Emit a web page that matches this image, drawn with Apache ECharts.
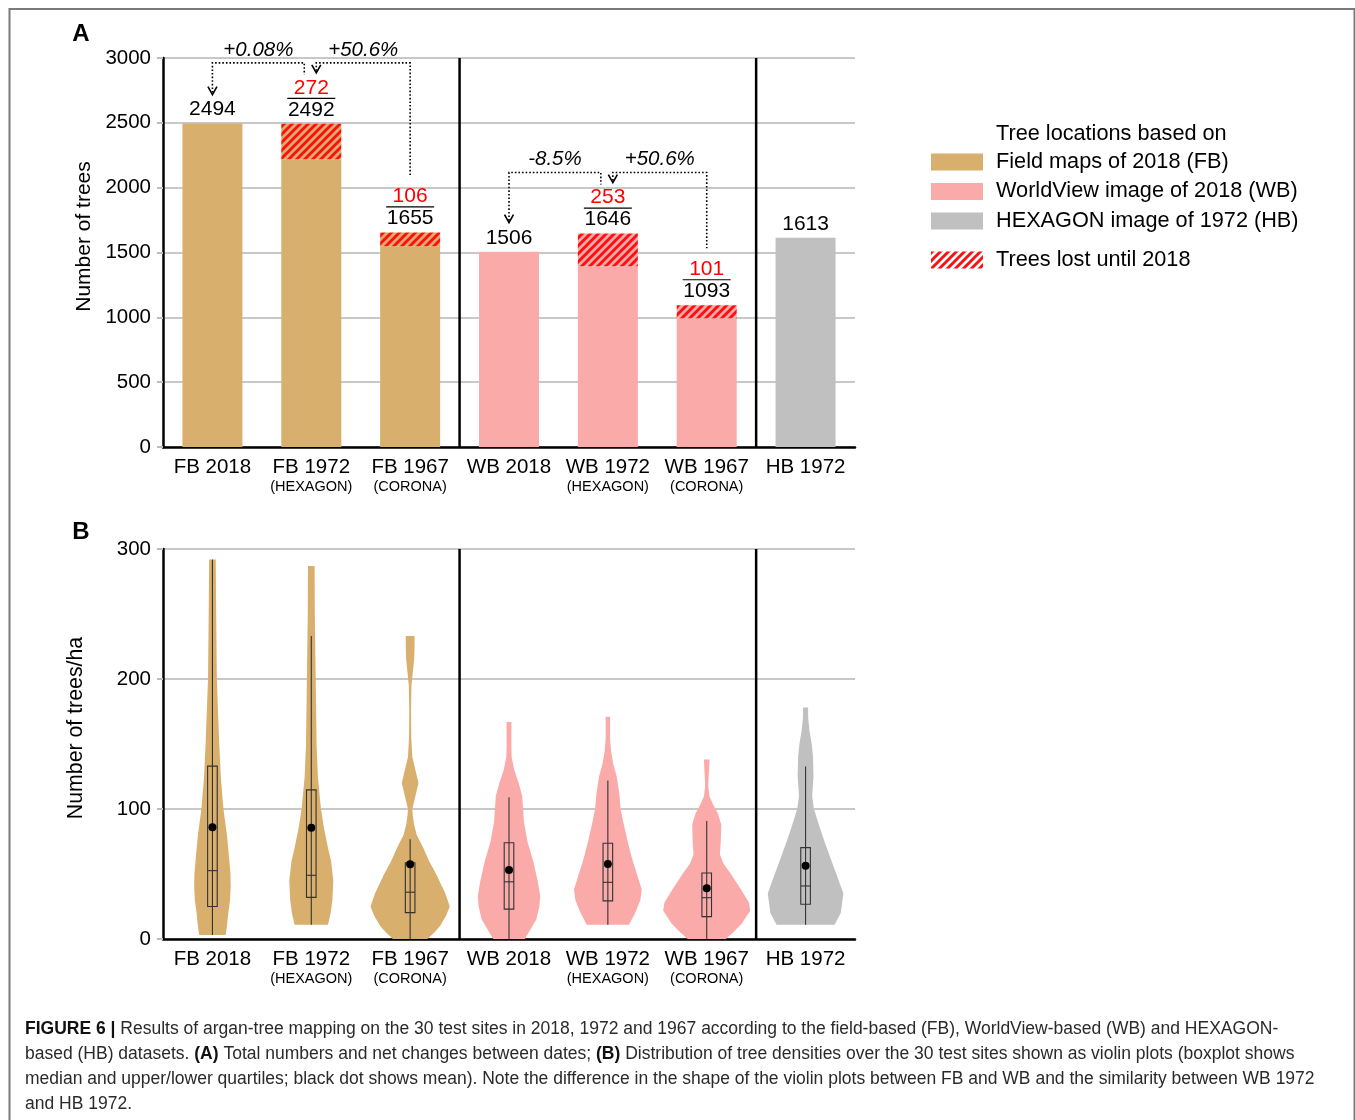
<!DOCTYPE html>
<html>
<head>
<meta charset="utf-8">
<script src="https://cdn.jsdelivr.net/npm/echarts@6/dist/echarts.min.js"></script>
<style>
  html, body { margin: 0; padding: 0; background: #fff; }
  #chart { width: 1355px; height: 1120px; }
</style>
</head>
<body>
<div id="chart"></div>
<script>
// categories shared by both panels
const categories = ['FB 2018', 'FB 1972', 'FB 1967', 'WB 2018', 'WB 1972', 'WB 1967', 'HB 1972'];
const subLabels = ['', '(HEXAGON)', '(CORONA)', '', '(HEXAGON)', '(CORONA)', ''];

// panel A: total trees and trees lost until 2018
const totalTrees = [2494, 2492, 1655, 1506, 1646, 1093, 1613];
const lostTrees = [0, 272, 106, 0, 253, 101, 0];
const netChanges = [
  { from: 'FB 1972', to: 'FB 2018', text: '+0.08%' },
  { from: 'FB 1967', to: 'FB 1972', text: '+50.6%' },
  { from: 'WB 1972', to: 'WB 2018', text: '-8.5%' },
  { from: 'WB 1967', to: 'WB 1972', text: '+50.6%' }
];
// groups are split by a black line before these categories
const groupStarts = ['WB 2018', 'HB 1972'];

// panel B: violin outlines [trees/ha, relative density] and box stats
const violinDensity = [
  [[3, 0.30], [10, 0.33], [20, 0.36], [30, 0.40], [40, 0.415], [50, 0.41], [60, 0.385], [80, 0.33], [100, 0.25], [125, 0.19], [150, 0.155], [200, 0.10], [250, 0.085], [292, 0.075]],
  [[11, 0.38], [20, 0.44], [30, 0.48], [45, 0.50], [60, 0.45], [70, 0.38], [85, 0.29], [100, 0.22], [125, 0.15], [150, 0.12], [200, 0.10], [250, 0.08], [287, 0.075]],
  [[0, 0.39], [5, 0.55], [10, 0.68], [18, 0.82], [25, 0.90], [35, 0.80], [50, 0.59], [60, 0.43], [70, 0.30], [80, 0.15], [88, 0.09], [95, 0.06], [100, 0.05], [110, 0.12], [120, 0.19], [130, 0.12], [140, 0.05], [155, 0.025], [175, 0.02], [195, 0.03], [205, 0.06], [215, 0.09], [225, 0.10], [233, 0.10]],
  [[0, 0.36], [8, 0.50], [15, 0.62], [25, 0.69], [33, 0.71], [45, 0.65], [60, 0.55], [75, 0.42], [90, 0.34], [100, 0.32], [110, 0.30], [120, 0.22], [130, 0.12], [140, 0.06], [150, 0.055], [167, 0.055]],
  [[11, 0.48], [20, 0.62], [30, 0.74], [38, 0.77], [50, 0.66], [62, 0.55], [75, 0.45], [90, 0.35], [100, 0.29], [112, 0.26], [125, 0.20], [135, 0.12], [145, 0.07], [155, 0.05], [171, 0.05]],
  [[0, 0.43], [5, 0.60], [12, 0.80], [22, 0.99], [28, 0.96], [38, 0.78], [50, 0.55], [58, 0.38], [65, 0.30], [75, 0.32], [88, 0.33], [97, 0.25], [103, 0.15], [110, 0.06], [118, 0.035], [125, 0.045], [138, 0.065]],
  [[11, 0.66], [20, 0.80], [35, 0.86], [50, 0.70], [62, 0.57], [75, 0.43], [88, 0.30], [100, 0.19], [110, 0.15], [125, 0.18], [140, 0.17], [150, 0.14], [160, 0.09], [170, 0.06], [178, 0.057]]
];
// [lower whisker, Q1, median, Q3, upper whisker]
const boxStats = [
  [3, 25, 52.6, 133, 292],
  [11, 32, 49, 114.7, 233],
  [0, 20.3, 36, 58.7, 76.7],
  [0, 23, 44, 74, 109],
  [11, 29.3, 43.6, 73.7, 122],
  [0, 17.2, 31.8, 50.8, 90.8],
  [11, 26.7, 40.8, 70.3, 132.6]
];
const meanDensity = [86, 85.5, 57.5, 53, 57.7, 39, 56.4];

const legendLabels = ['Field maps of 2018 (FB)', 'WorldView image of 2018 (WB)', 'HEXAGON image of 1972 (HB)'];

const FONT = 'Liberation Sans, Arial, Helvetica, sans-serif';
const colorOf = name => ({ FB: '#d8af6c', WB: '#fbaaaa', HB: '#c0c0c0' })[name.slice(0, 2)];

function stripes(bg) {
  const s = 8;
  const c = document.createElement('canvas');
  c.width = c.height = s;
  const ctx = c.getContext('2d');
  ctx.fillStyle = bg;
  ctx.fillRect(0, 0, s, s);
  ctx.strokeStyle = '#ff1010';
  ctx.lineWidth = 3;
  ctx.beginPath();
  ctx.moveTo(0, s); ctx.lineTo(s, 0);
  ctx.moveTo(-s / 2, s / 2); ctx.lineTo(s / 2, -s / 2);
  ctx.moveTo(s / 2, s * 1.5); ctx.lineTo(s * 1.5, s / 2);
  ctx.stroke();
  return c;
}

function xAxisFor(gridIndex) {
  return {
    type: 'category',
    gridIndex: gridIndex,
    data: categories,
    axisLine: { lineStyle: { color: '#000', width: 2.5 } },
    axisTick: { show: false },
    axisLabel: {
      margin: 9,
      interval: 0,
      formatter: (v, i) => subLabels[i] ? '{a|' + v + '}\n{b|' + subLabels[i] + '}' : '{a|' + v + '}',
      rich: {
        a: { fontSize: 20.5, lineHeight: 22, color: '#000', fontFamily: FONT },
        b: { fontSize: 14.5, lineHeight: 17, color: '#000', fontFamily: FONT }
      }
    }
  };
}

function yAxisFor(gridIndex, max, interval, name, gap, nameSize) {
  return {
    type: 'value',
    gridIndex: gridIndex,
    min: 0,
    max: max,
    interval: interval,
    name: name,
    nameLocation: 'middle',
    nameGap: gap,
    nameTextStyle: { fontSize: nameSize, color: '#000', fontFamily: FONT, padding: [0, 0, 0, 32] },
    axisLine: { show: true, lineStyle: { color: '#000', width: 2.5 } },
    axisTick: { show: true, length: 6, lineStyle: { color: '#bdbdbd', width: 2 } },
    axisLabel: { fontSize: 20.5, color: '#000', margin: 12, fontFamily: FONT, formatter: v => String(v) },
    splitLine: { lineStyle: { color: '#c8c8c8', width: 2 } }
  };
}

const chart = echarts.init(document.getElementById('chart'));

const option = {
  animation: false,
  textStyle: { fontFamily: FONT },
  grid: [
    { left: 163, top: 58, width: 692, height: 389 },
    { left: 163, top: 549, width: 692, height: 390 }
  ],
  xAxis: [xAxisFor(0), xAxisFor(1)],
  yAxis: [
    yAxisFor(0, 3000, 500, 'Number of trees', 67, 21),
    yAxisFor(1, 300, 100, 'Number of trees/ha', 76, 21.3)
  ],
  series: [
    {
      type: 'bar',
      xAxisIndex: 0,
      yAxisIndex: 0,
      stack: 'trees',
      barWidth: 60,
      data: totalTrees.map((t, i) => ({ value: t - lostTrees[i], itemStyle: { color: colorOf(categories[i]) } }))
    },
    {
      type: 'bar',
      xAxisIndex: 0,
      yAxisIndex: 0,
      stack: 'trees',
      barWidth: 60,
      data: lostTrees.map((l, i) => ({
        value: l,
        itemStyle: { color: { image: stripes(colorOf(categories[i])), repeat: 'repeat' } }
      })),
      label: {
        show: true,
        position: 'top',
        distance: 3,
        align: 'center',
        formatter: p => {
          const i = p.dataIndex;
          return lostTrees[i] ? '{r|' + lostTrees[i] + '}\n{k|' + totalTrees[i] + '}' : '{k|' + totalTrees[i] + '}';
        },
        rich: {
          r: { color: '#ff0000', fontSize: 21, lineHeight: 22, fontFamily: FONT },
          k: { color: '#000', fontSize: 21, lineHeight: 22, fontFamily: FONT }
        }
      }
    },
    {
      type: 'custom',
      xAxisIndex: 1,
      yAxisIndex: 1,
      data: categories.map((c, i) => [i, boxStats[i][4]]),
      encode: { x: 0, y: 1 },
      renderItem: (params, api) => {
        const i = params.dataIndex;
        const cx = api.coord([i, 0])[0];
        const band = api.size([1, 0])[0];
        const half = band * 0.445;
        const y = v => api.coord([i, v])[1];
        const prof = violinDensity[i];
        const right = prof.map(([v, d]) => [cx + d * half, y(v)]);
        const left = prof.slice().reverse().map(([v, d]) => [cx - d * half, y(v)]);
        const [lo, q1, md, q3, hi] = boxStats[i];
        const bw = 4.8;
        const ink = { stroke: '#333', lineWidth: 1.1 };
        return {
          type: 'group',
          children: [
            { type: 'polygon', shape: { points: right.concat(left) }, style: { fill: colorOf(categories[i]) } },
            { type: 'line', shape: { x1: cx, y1: y(lo), x2: cx, y2: y(hi) }, style: ink },
            { type: 'rect', shape: { x: cx - bw, y: y(q3), width: bw * 2, height: y(q1) - y(q3) }, style: Object.assign({ fill: 'none' }, ink) },
            { type: 'line', shape: { x1: cx - bw, y1: y(md), x2: cx + bw, y2: y(md) }, style: ink },
            { type: 'circle', shape: { cx: cx, cy: y(meanDensity[i]), r: 4 }, style: { fill: '#000' } }
          ]
        };
      }
    }
  ]
};

chart.setOption(option);

// ---- annotations: separators, brackets, legend, caption ----
const px = (i, v, g) => chart.convertToPixel({ gridIndex: g || 0 }, [i, v]);
const barTop = i => px(i, totalTrees[i])[1];
const labelTop = i => barTop(i) - 3 - (lostTrees[i] ? 44 : 22);

const graphics = [];

// black separators between dataset groups, both panels
[[0, 3000], [1, 300]].forEach(([g, max]) => {
  groupStarts.forEach(name => {
    const k = categories.indexOf(name);
    const x = (px(k - 1, 0, g)[0] + px(k, 0, g)[0]) / 2;
    graphics.push({
      type: 'line',
      shape: { x1: x, y1: px(k, max, g)[1], x2: x, y2: px(k, 0, g)[1] },
      style: { stroke: '#000', lineWidth: 2.5 }
    });
  });
});

// fraction bars between lost and total counts
lostTrees.forEach((l, i) => {
  if (!l) return;
  const cx = px(i, 0)[0];
  const y = barTop(i) - 3 - 22.5;
  graphics.push({
    type: 'line',
    shape: { x1: cx - 24, y1: y, x2: cx + 24, y2: y },
    style: { stroke: '#000', lineWidth: 1.2 }
  });
});

const dotted = { stroke: '#000', lineWidth: 1.6, lineDash: [1.6, 2], fill: 'none' };
const involved = {};
netChanges.forEach(c => { involved[c.from] = (involved[c.from] || 0) + 1; involved[c.to] = (involved[c.to] || 0) + 1; });
const levels = {};
Object.keys(involved).forEach(name => {
  const g = name.slice(0, 2);
  const t = labelTop(categories.indexOf(name));
  levels[g] = levels[g] === undefined ? t : Math.min(levels[g], t);
});

netChanges.forEach(c => {
  const a = categories.indexOf(c.from);
  const b = categories.indexOf(c.to);
  const level = levels[c.from.slice(0, 2)] - 14;
  const shared = n => involved[n] > 1;
  // left end is the "to" bar, right end is the "from" bar
  const xTo = px(b, 0)[0] + (shared(c.to) ? 5 : 0);
  const xFrom = px(a, 0)[0] + (shared(c.from) ? -7 : 0);
  const tip = labelTop(b) - 4;
  const fromEnd = shared(c.from) ? level + 12 : labelTop(a) - 10;
  graphics.push({
    type: 'polyline',
    shape: { points: [[xTo, tip - 2], [xTo, level], [xFrom, level], [xFrom, fromEnd]] },
    style: dotted
  });
  graphics.push({
    type: 'polyline',
    shape: { points: [[xTo - 4.5, tip - 8], [xTo, tip], [xTo + 4.5, tip - 8]] },
    style: { stroke: '#000', lineWidth: 1.6, fill: 'none' }
  });
  graphics.push({
    type: 'text',
    style: {
      text: c.text, x: (xTo + xFrom) / 2, y: level - 13, align: 'center', verticalAlign: 'middle',
      fontSize: 20.5, fontStyle: 'italic', fontFamily: FONT, fill: '#000'
    }
  });
});

// legend
const LEG = 21.7;
graphics.push({
  type: 'text',
  style: { text: 'Tree locations based on', x: 996, y: 134, verticalAlign: 'middle', fontSize: LEG, fontFamily: FONT, fill: '#000' }
});
legendLabels.forEach((lab, k) => {
  const cy = 162 + k * 29.5;
  graphics.push({
    type: 'rect',
    shape: { x: 931, y: cy - 8.5, width: 52, height: 17 },
    style: { fill: colorOf(['FB', 'WB', 'HB'][k]) }
  });
  graphics.push({
    type: 'text',
    style: { text: lab, x: 996, y: cy, verticalAlign: 'middle', fontSize: LEG, fontFamily: FONT, fill: '#000' }
  });
});
graphics.push({
  type: 'rect',
  shape: { x: 931, y: 251.5, width: 52, height: 17 },
  style: { fill: { image: stripes('#ffffff'), repeat: 'repeat' } }
});
graphics.push({
  type: 'text',
  style: { text: 'Trees lost until 2018', x: 996, y: 260, verticalAlign: 'middle', fontSize: LEG, fontFamily: FONT, fill: '#000' }
});

// panel letters
[['A', 34], ['B', 532]].forEach(([t, y]) => {
  graphics.push({
    type: 'text',
    style: { text: t, x: 81, y: y, align: 'center', verticalAlign: 'middle', fontSize: 24, fontWeight: 'bold', fontFamily: FONT, fill: '#000' }
  });
});

// frame
graphics.push({
  type: 'rect',
  shape: { x: 9.5, y: 9, width: 1345, height: 1200 },
  style: { fill: 'none', stroke: '#7a7a7a', lineWidth: 2 }
});

// caption
const captionLines = [
  '{b|FIGURE 6 |} Results of argan-tree mapping on the 30 test sites in 2018, 1972 and 1967 according to the field-based (FB), WorldView-based (WB) and HEXAGON-',
  'based (HB) datasets. {b|(A)} Total numbers and net changes between dates; {b|(B)} Distribution of tree densities over the 30 test sites shown as violin plots (boxplot shows',
  'median and upper/lower quartiles; black dot shows mean). Note the difference in the shape of the violin plots between FB and WB and the similarity between WB 1972',
  'and HB 1972.'
];
captionLines.forEach((line, k) => {
  graphics.push({
    type: 'text',
    style: {
      text: line, x: 25, y: 1029 + k * 25, verticalAlign: 'middle',
      fontSize: 17.5, fontFamily: FONT, fill: '#2a2a2a',
      rich: { b: { fontSize: 17.5, fontWeight: 'bold', fontFamily: FONT, fill: '#111' } }
    }
  });
});

chart.setOption({ graphic: graphics });
</script>
</body>
</html>
